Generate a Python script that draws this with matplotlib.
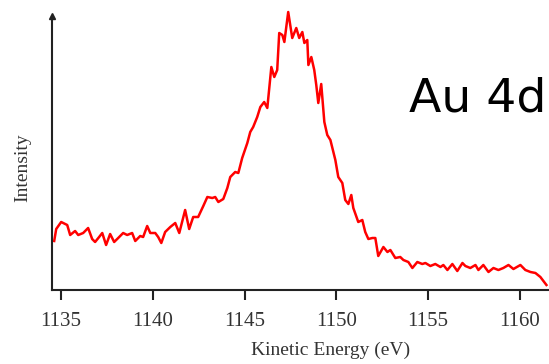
import matplotlib.pyplot as plt
import numpy as np

# Au 4d spectrum
energy = [1134.62, 1134.73, 1135.00, 1135.11, 1135.33, 1135.49, 1135.76, 1135.93,
          1136.20, 1136.47, 1136.69, 1136.85, 1137.07, 1137.24, 1137.45, 1137.67,
          1137.89, 1138.11, 1138.38, 1138.60, 1138.87, 1139.04, 1139.31, 1139.47,
          1139.69, 1139.86, 1140.13, 1140.29, 1140.46, 1140.67, 1140.95, 1141.22,
          1141.44, 1141.76, 1141.98, 1142.20, 1142.47, 1142.75, 1142.97, 1143.24,
          1143.40, 1143.57, 1143.84, 1144.06, 1144.22, 1144.49, 1144.66, 1144.87,
          1145.15, 1145.31, 1145.47, 1145.69, 1145.86, 1146.07, 1146.24, 1146.46,
          1146.62, 1146.78, 1146.89, 1147.06, 1147.17, 1147.38, 1147.60, 1147.82,
          1147.98, 1148.15, 1148.26, 1148.42, 1148.48, 1148.64, 1148.80, 1148.91,
          1149.02, 1149.18, 1149.35, 1149.51, 1149.68, 1149.95, 1150.11, 1150.33,
          1150.49, 1150.66, 1150.82, 1150.93, 1151.20, 1151.42, 1151.58, 1151.75,
          1151.97, 1152.13, 1152.29, 1152.57, 1152.79, 1152.95, 1153.22, 1153.49,
          1153.66, 1153.93, 1154.15, 1154.42, 1154.69, 1154.86, 1155.13, 1155.40,
          1155.68, 1155.84, 1156.06, 1156.33, 1156.60, 1156.88, 1157.04, 1157.31,
          1157.59, 1157.75, 1158.02, 1158.30, 1158.57, 1158.84, 1159.11, 1159.39,
          1159.66, 1160.04, 1160.31, 1160.59, 1160.86, 1161.13, 1161.46]
intensity = [49, 61, 68, 67, 65, 55, 59, 55,
             57, 62, 51, 48, 53, 57, 45, 56,
             48, 52, 57, 55, 57, 49, 54, 53,
             64, 57, 57, 53, 47, 58, 63, 67,
             57, 80, 61, 73, 73, 84, 93, 92,
             93, 88, 91, 102, 113, 118, 117, 132,
             147, 158, 163, 173, 183, 188, 182, 223,
             213, 220, 257, 255, 248, 278, 252, 262,
             252, 258, 247, 250, 225, 233, 220, 205,
             187, 206, 168, 155, 150, 130, 113, 107,
             90, 86, 95, 82, 68, 70, 58, 51,
             52, 52, 34, 43, 38, 40, 32, 33,
             30, 28, 22, 28, 26, 27, 24, 26,
             23, 25, 20, 26, 19, 27, 24, 22,
             25, 20, 25, 18, 22, 20, 22, 25,
             21, 25, 20, 18, 17, 13, 5]
xticks = [1135, 1140, 1145, 1150, 1155, 1160]

W, H = 549, 364
fig = plt.figure(figsize=(W / 100, H / 100), dpi=100)
ax = fig.add_axes([52 / W, (H - 290) / H, (W - 52) / W, 274 / H])

ax.plot(energy, intensity, color='#ff0000', lw=1.8, clip_on=False)
ax.set_xlim(1134.5, 1161.6)
ax.set_ylim(0, 274)

ax.spines['top'].set_visible(False)
ax.spines['right'].set_visible(False)
for s in ['left', 'bottom']:
    ax.spines[s].set_linewidth(1.5)
    ax.spines[s].set_color('#222222')

# arrow head on the intensity axis
ax.plot(0, 1, marker='^', ms=5, color='#222222', transform=ax.transAxes, clip_on=False)

ax.set_xticks(xticks)
ax.set_yticks([])
ax.tick_params(axis='x', direction='out', length=7.5, width=1.5, color='#222222',
               labelsize=15, pad=8)
for lab in ax.get_xticklabels():
    lab.set_family('Liberation Serif')
    lab.set_color('#333333')

fig.text(331 / W, (H - 350) / H, 'Kinetic Energy (eV)', ha='center', va='center',
         family='Liberation Serif', fontsize=14, color='#333333')
fig.text(23 / W, (H - 168) / H, 'Intensity', ha='center', va='center', rotation=90,
         family='Liberation Serif', fontsize=14, color='#333333')
fig.text(409 / W, (H - 112) / H, 'Au 4d', ha='left', va='baseline',
         family='DejaVu Sans', fontsize=34, color='black')

plt.savefig('out.png', dpi=100)
